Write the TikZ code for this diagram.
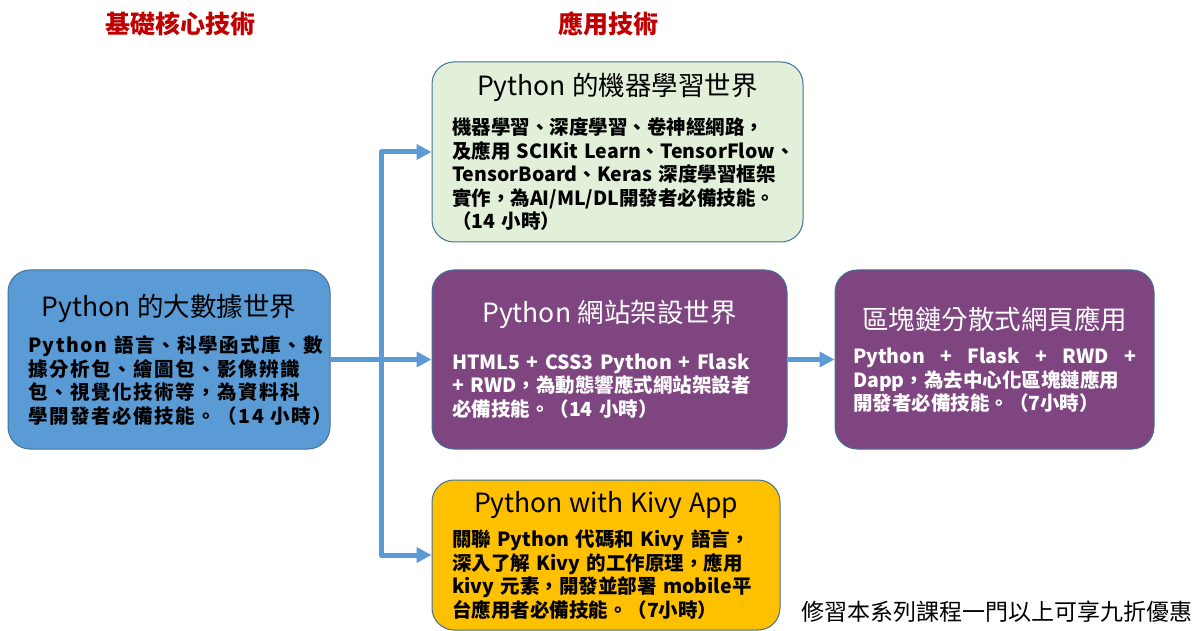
\documentclass[tikz,border=0pt]{standalone}
\usepackage{fontspec}
\setmainfont{Noto Sans CJK TC}
\usetikzlibrary{arrows.meta,calc}
\definecolor{flowblue}{HTML}{5B9BD5}
\definecolor{edgeblue}{HTML}{41719C}
\definecolor{mlgreen}{HTML}{E2F0D9}
\definecolor{webpurple}{HTML}{7E4580}
\definecolor{kivyyellow}{HTML}{FFC000}
\definecolor{headred}{HTML}{C00000}
% title line of a box, then a gap before the body
\newcommand{\boxhead}[2]{{\centering\fontsize{26.5}{30}\selectfont\mdseries #1\par}\vspace{#2pt}}
\begin{document}
\begin{tikzpicture}[x=1pt,y=-1pt,line join=round,
  card/.style={draw=edgeblue,line width=1pt,rounded corners=22pt,inner xsep=20pt,inner ysep=0pt,
    font=\fontsize{19.5}{23.5}\selectfont\bfseries},
  flow/.style={draw=flowblue,line width=5pt,-{Triangle[length=15pt,width=15pt]}},
  heading/.style={text=headred,font=\fontsize{25}{28}\selectfont\bfseries}]
\useasboundingbox (0,0) rectangle (1203,631);
% column headings
\node[heading] (core) at (180,24) {基礎核心技術};
\node[heading] (apps) at (608,24) {應用技術};
% boxes
\node[card,fill=flowblue,text width=282pt,minimum height=179pt] (bigdata) at (169,359.5)
  {\boxhead{Python 的大數據世界}{13}
   \addfontfeature{LetterSpace=8}%
   Python~語言、科學函式庫、數\\
   據分析包、繪圖包、影像辨識\\
   包、視覺化技術等，為資料科\\
   學開發者必備技能。（14~小時）};
\node[card,fill=mlgreen,text width=331pt,minimum height=180pt] (ml) at (617.5,152)
  {\boxhead{Python 的機器學習世界}{16}
   機器學習、深度學習、卷神經網路，\\
   及應用~SCIKit~Learn、TensorFlow、\\
   TensorBoard、Keras~深度學習框架\\
   實作，為AI/ML/DL開發者必備技能。\\
   （14~小時）};
\node[card,fill=webpurple,text=white,text width=315pt,minimum height=179pt] (web) at (609.5,359.5)
  {\boxhead{Python 網站架設世界}{23}
   HTML5~+~CSS3~Python~+~Flask\\
   +~RWD，為動態響應式網站架設者\\
   必備技能。（14~小時）};
\node[card,fill=webpurple,text=white,inner xsep=18pt,text width=283pt,minimum height=179pt] (dapp) at (994.5,359.5)
  {\boxhead{區塊鏈分散式網頁應用}{11}
   \hbox to\linewidth{Python\hfill+\hfill Flask\hfill+\hfill RWD\hfill+}
   Dapp，為去中心化區塊鏈應用\\
   開發者必備技能。（7小時）};
\node[card,fill=kivyyellow,text width=308pt,minimum height=150pt] (kivy) at (606,555)
  {\boxhead{Python with Kivy App}{11}
   關聯~Python~代碼和~Kivy~語言，\\
   深入了解~Kivy~的工作原理，應用\\
   kivy~元素，開發並部署~mobile平\\
   台應用者必備技能。（7小時）};
% note
\node[font=\fontsize{23}{26}\selectfont] (note) at (997,612) {修習本系列課程一門以上可享九折優惠};
% connectors
\coordinate (fork) at ($(bigdata.east)!.5!(web.west)$);
\draw[flow] (bigdata.east) -- (web.west);
\draw[flow] (fork) |- (ml.west);
\draw[flow] (fork) |- (kivy.west);
\draw[flow] (web.east) -- (dapp.west);
\end{tikzpicture}
\end{document}
